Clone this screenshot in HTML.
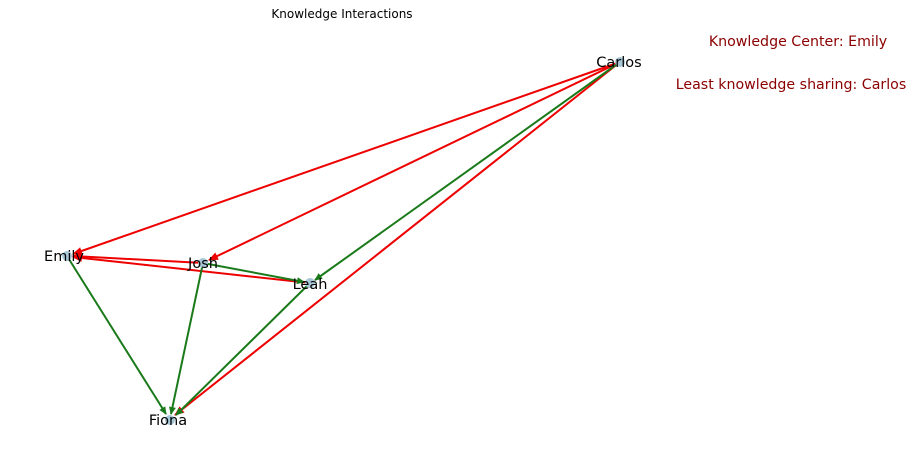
<!DOCTYPE html>
<html><head><meta charset="utf-8"><style>
body{margin:0;background:#fff;}
svg text{font-family:"DejaVu Sans","Liberation Sans",sans-serif;}
</style></head><body>
<svg width="912" height="465" xmlns="http://www.w3.org/2000/svg">
<defs>
<marker id="r" markerWidth="10" markerHeight="8" refX="9" refY="4" orient="auto" markerUnits="userSpaceOnUse"><path d="M0,0 L10,4 L0,8 z" fill="#e00"/></marker>
<marker id="g" markerWidth="8" markerHeight="7" refX="7" refY="3.5" orient="auto" markerUnits="userSpaceOnUse"><path d="M0,0 L8,3.5 L0,7 z" fill="#1a7a1a"/></marker>
</defs>
<text x="342" y="18" font-size="12" text-anchor="middle">Knowledge Interactions</text>
<text x="798" y="46" font-size="14.2" fill="#8b0000" text-anchor="middle">Knowledge Center: Emily</text>
<text x="791" y="89" font-size="14.2" fill="#8b0000" text-anchor="middle">Least knowledge sharing: Carlos</text>
<g stroke-width="2" fill="none">
<line x1="620" y1="62" x2="73" y2="254" stroke="#e00" marker-end="url(#r)"/>
<line x1="620" y1="62" x2="209" y2="260" stroke="#e00" marker-end="url(#r)"/>
<line x1="620" y1="62" x2="175" y2="415" stroke="#e00" marker-end="url(#r)"/>
<line x1="203" y1="263" x2="73" y2="256" stroke="#e00" marker-end="url(#r)"/>
<line x1="310" y1="283" x2="73" y2="257" stroke="#e00" marker-end="url(#r)"/>
<line x1="620" y1="62" x2="315" y2="280" stroke="#1a7a1a" marker-end="url(#g)"/>
<line x1="203" y1="263" x2="304" y2="282" stroke="#1a7a1a" marker-end="url(#g)"/>
<line x1="67" y1="256" x2="166" y2="414" stroke="#1a7a1a" marker-end="url(#g)"/>
<line x1="203" y1="263" x2="171" y2="414" stroke="#1a7a1a" marker-end="url(#g)"/>
<line x1="310" y1="283" x2="176" y2="415" stroke="#1a7a1a" marker-end="url(#g)"/>
</g>
<g fill="#a8c8d8">
<circle cx="620" cy="62" r="5"/><circle cx="67" cy="256" r="5"/><circle cx="203" cy="263" r="5"/><circle cx="310" cy="283" r="5"/><circle cx="170" cy="420" r="5"/>
</g>
<g font-size="14.5" text-anchor="middle">
<text x="619" y="67">Carlos</text>
<text x="64" y="261">Emily</text>
<text x="203" y="268">Josh</text>
<text x="310" y="289">Leah</text>
<text x="168" y="425">Fiona</text>
</g>
</svg>
</body></html>
